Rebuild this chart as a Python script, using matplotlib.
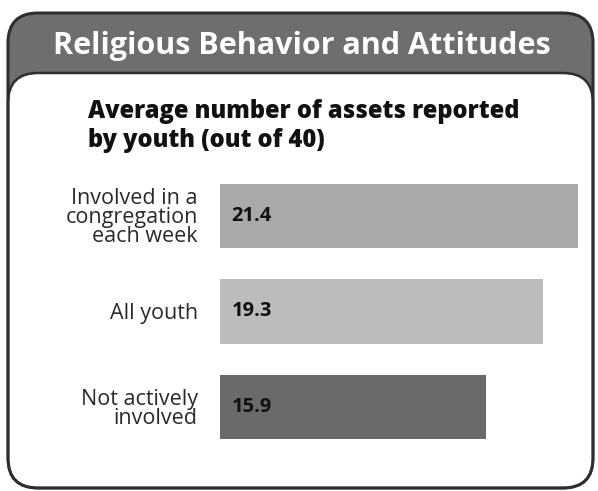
import matplotlib
matplotlib.use('Agg')
import matplotlib.pyplot as plt
from matplotlib.patches import FancyBboxPatch

# data
categories = ["Involved in a\ncongregation\neach week", "All youth", "Not actively\ninvolved"]
values = [21.4, 19.3, 15.9]
bar_colors = ['#a9a9a9', '#bcbcbd', '#6a6a6a']
header = "Religious Behavior and Attitudes"
subtitle = "Average number of assets reported\nby youth (out of 40)"

W, H = 598, 491
fig = plt.figure(figsize=(W / 100, H / 100), dpi=100)

# background frame in pixel coords
bg = fig.add_axes([0, 0, 1, 1])
bg.set_xlim(0, W)
bg.set_ylim(H, 0)
bg.axis('off')

edge = '#2e2e2e'
outer = FancyBboxPatch((8, 13), 585, 475, boxstyle='round,pad=0,rounding_size=30',
                       facecolor='#6e6e6e', edgecolor='none')
bg.add_patch(outer)
inner = FancyBboxPatch((8, 73), 585, 415, boxstyle='round,pad=0,rounding_size=30',
                       facecolor='white', edgecolor=edge, linewidth=1.8)
bg.add_patch(inner)
border = FancyBboxPatch((8, 13), 585, 475, boxstyle='round,pad=0,rounding_size=30',
                        facecolor='none', edgecolor=edge, linewidth=2.2)
bg.add_patch(border)

bg.text(302, 54, header, color='white', fontsize=22, fontweight='bold',
        family='Open Sans', ha='center', va='baseline')
bg.text(88, 99, subtitle, color='#111111', fontsize=17, fontweight=800,
        family='Open Sans', ha='left', va='top', linespacing=1.2)

# bars
px_per_unit = 16.72
ax_left, ax_right = 220, 583
ax_top, ax_bot = 168, 455
ax = fig.add_axes([ax_left / W, 1 - ax_bot / H, (ax_right - ax_left) / W, (ax_bot - ax_top) / H])
ax.patch.set_alpha(0)
ypos = list(range(len(values)))
ax.barh(ypos, values, height=0.67, color=bar_colors)
ax.set_xlim(0, (ax_right - ax_left) / px_per_unit)
ax.set_ylim(len(values) - 0.5, -0.5)
for s in ax.spines.values():
    s.set_visible(False)
ax.set_xticks([])
ax.set_yticks(ypos)
ax.set_yticklabels(categories, family='Open Sans', fontsize=15.5, color='#2a2a2a',
                   linespacing=0.9)
for t in ax.get_yticklabels():
    t.set_multialignment('right')
ax.tick_params(axis='y', length=0, pad=16)

for y, v in zip(ypos, values):
    ax.text(0.7, y, f"{v:.1f}", family='Open Sans', fontweight='bold', fontsize=14.5,
            color='#111111', ha='left', va='center')

fig.savefig('out.png', dpi=100)
